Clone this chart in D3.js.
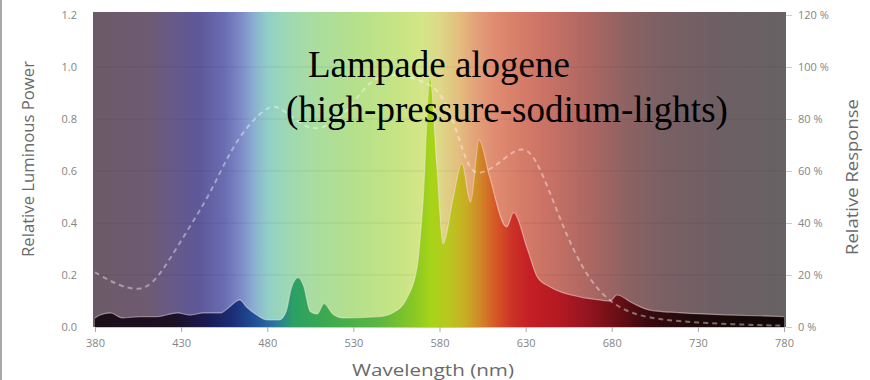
<!DOCTYPE html>
<html lang="en">
<head>
    <meta charset="UTF-8">
    <title>Lampade alogene spectrum</title>
    <script src="https://d3js.org/d3.v7.min.js"></script>
    <style>
        body { margin: 0; background: #fff; }
        .tick text { font-family: "Open Sans", sans-serif; fill: #858585; }
        .axis-title { font-family: "Open Sans", sans-serif; fill: #6a6a6a; }
        .caption { font-family: "Liberation Serif", "Times New Roman", serif; fill: #000; }
    </style>
</head>
<body>
    <svg width="870" height="380"></svg>

    <script>
        // Data
        const xTicks = [380, 430, 480, 530, 580, 630, 680, 730, 780];
        const leftTicks = [0, 0.2, 0.4, 0.6, 0.8, 1.0, 1.2];
        const rightTicks = [0, 20, 40, 60, 80, 100, 120];

        // relative luminous power of the lamp
        const powerWl = [380, 383, 389, 396, 406, 416, 428, 435, 443, 453, 458, 464, 468, 474, 480, 487,
            491, 494, 498, 501, 505, 509, 513, 518, 524, 545, 553, 561, 567, 570.5, 574.5, 578.5, 582,
            588, 593, 598, 603, 609, 619, 623, 631, 637, 644, 662, 673, 679, 683, 692, 702, 721, 750, 780];
        const powerVal = [0.035, 0.046, 0.054, 0.035, 0.040, 0.040, 0.054, 0.046, 0.054, 0.054, 0.077, 0.104, 0.077, 0.046, 0.027, 0.027,
            0.06, 0.15, 0.19, 0.16, 0.06, 0.05, 0.09, 0.05, 0.035, 0.04, 0.055, 0.11, 0.23, 0.49, 0.96, 0.62, 0.32,
            0.50, 0.63, 0.48, 0.72, 0.58, 0.385, 0.44, 0.30, 0.19, 0.155, 0.115, 0.104, 0.10, 0.123, 0.092, 0.065, 0.054, 0.046, 0.04];

        // relative response (dashed)
        const responseWl = [380, 388, 396, 406, 414, 422, 435, 447, 458, 468, 480, 487, 499, 510, 526, 538, 548, 560,
            572, 580, 588, 596, 602, 613, 623, 631, 638, 648, 656, 666, 679, 695, 720, 750, 780];
        const responseVal = [0.21, 0.18, 0.155, 0.14, 0.17, 0.245, 0.385, 0.515, 0.67, 0.77, 0.85, 0.85, 0.78, 0.75, 0.82, 0.94, 0.97, 0.97,
            0.94, 0.91, 0.80, 0.62, 0.58, 0.62, 0.68, 0.69, 0.62, 0.45, 0.32, 0.19, 0.092, 0.04, 0.02, 0.01, 0.005];

        const power = powerWl.map((w, i) => ({ wl: w, v: powerVal[i] }));
        const response = responseWl.map((w, i) => ({ wl: w, v: responseVal[i] }));

        // SVG setup
        const svg = d3.select("svg");
        const x = d3.scaleLinear().domain([380, 780]).range([95, 784]);
        const y = d3.scaleLinear().domain([0, 1.2]).range([327, 15]);
        const yR = d3.scaleLinear().domain([0, 120]).range([327, 15]);

        const defs = svg.append("defs");

        // muted spectrum behind everything
        const bgStops = [
            [380, "#6c5a68"], [410, "#6f5a72"], [425, "#675a88"], [440, "#5e5899"], [455, "#6a6cb2"],
            [465, "#7e8cc8"], [472, "#8aaed2"], [480, "#92cec6"], [490, "#9cd8b6"], [505, "#a8dca2"],
            [530, "#b4e08c"], [555, "#c6e484"], [570, "#d4e688"], [580, "#ddd888"], [590, "#e3c17f"],
            [600, "#e3a47a"], [612, "#e08c70"], [630, "#d47a68"], [650, "#c26e64"], [670, "#a86662"],
            [690, "#8c6262"], [710, "#7a6064"], [740, "#6e5f64"], [780, "#676264"]
        ];
        // vivid spectrum under the curve
        const fgStops = [
            [380, "#1a0f18"], [425, "#1c1024"], [445, "#1a1a52"], [460, "#1c2e78"], [472, "#1f4e96"],
            [485, "#2a78a0"], [495, "#2aa064"], [515, "#3eaa4e"], [545, "#5cb640"], [565, "#88c824"],
            [575, "#a6d418"], [585, "#b8c820"], [595, "#c8ae24"], [603, "#d08a28"], [612, "#d65a26"],
            [622, "#cc3226"], [632, "#c41f25"], [648, "#b61a22"], [665, "#961520"], [685, "#660e14"],
            [700, "#3a0a0e"], [730, "#1e0a0a"], [780, "#120808"]
        ];

        function addGradient(id, stops) {
            const grad = defs.append("linearGradient")
                .attr("id", id)
                .attr("gradientUnits", "userSpaceOnUse")
                .attr("x1", x(380)).attr("x2", x(780))
                .attr("y1", 0).attr("y2", 0);
            grad.selectAll("stop")
                .data(stops)
                .enter().append("stop")
                .attr("offset", d => (d[0] - 380) / 400)
                .attr("stop-color", d => d[1]);
        }
        addGradient("bgGrad", bgStops);
        addGradient("fgGrad", fgStops);

        // left border of the picture
        svg.append("rect")
            .attr("x", 0).attr("y", 0)
            .attr("width", 2).attr("height", 380)
            .style("fill", "#a8a8a8");

        // plot background
        svg.append("rect")
            .attr("x", x(380) - 2)
            .attr("y", 12)
            .attr("width", x(780) - x(380) + 4)
            .attr("height", y(0) - 12)
            .style("fill", "url(#bgGrad)");

        // faint grid
        svg.selectAll(".grid")
            .data(leftTicks.slice(1, -1))
            .enter().append("line")
            .attr("class", "grid")
            .attr("x1", x(380)).attr("x2", x(780))
            .attr("y1", d => y(d)).attr("y2", d => y(d))
            .style("stroke", "rgba(0,0,0,0.07)")
            .style("stroke-width", 1);

        // spectrum area
        const area = d3.area()
            .x(d => x(d.wl))
            .y0(y(0))
            .y1(d => y(d.v))
            .curve(d3.curveMonotoneX);

        svg.append("path")
            .datum(power)
            .attr("d", area)
            .style("fill", "url(#fgGrad)");

        svg.append("path")
            .datum(power)
            .attr("d", d3.line().x(d => x(d.wl)).y(d => y(d.v)).curve(d3.curveMonotoneX))
            .style("fill", "none")
            .style("stroke", "rgba(255,235,235,0.45)")
            .style("stroke-width", 1.2);

        // dashed response curve
        svg.append("path")
            .datum(response)
            .attr("d", d3.line().x(d => x(d.wl)).y(d => y(d.v)).curve(d3.curveBasis))
            .style("fill", "none")
            .style("stroke", "rgba(255,255,255,0.4)")
            .style("stroke-width", 2)
            .style("stroke-dasharray", "5,4");

        // X axis
        const xAxis = svg.append("g")
            .attr("transform", "translate(0," + y(0) + ")")
            .call(d3.axisBottom(x).tickValues(xTicks).tickSize(5).tickPadding(7));
        xAxis.select(".domain").style("stroke", "#c8c8c8");
        xAxis.selectAll(".tick line").style("stroke", "#aaa");
        xAxis.selectAll("text").style("font-size", "11px");

        // left Y axis
        const yAxis = svg.append("g")
            .attr("transform", "translate(" + (x(380) - 2) + ",0)")
            .call(d3.axisLeft(y).tickValues(leftTicks).tickSize(0).tickPadding(16).tickFormat(d3.format(".1f")));
        yAxis.select(".domain").remove();
        yAxis.selectAll("text").style("font-size", "11px");

        // right Y axis
        const yAxisR = svg.append("g")
            .attr("transform", "translate(" + (x(780) + 2) + ",0)")
            .call(d3.axisRight(yR).tickValues(rightTicks).tickSize(6).tickPadding(6).tickFormat(d => d + " %"));
        yAxisR.select(".domain").remove();
        yAxisR.selectAll(".tick line").style("stroke", "#ccc");
        yAxisR.selectAll("text").style("font-size", "11px");

        // axis titles
        svg.append("text")
            .attr("class", "axis-title")
            .attr("x", 433).attr("y", 376)
            .attr("text-anchor", "middle")
            .attr("textLength", 162)
            .attr("lengthAdjust", "spacingAndGlyphs")
            .style("font-size", "16px")
            .text("Wavelength (nm)");

        svg.append("text")
            .attr("class", "axis-title")
            .attr("transform", "translate(34,159) rotate(-90)")
            .attr("text-anchor", "middle")
            .attr("textLength", 196)
            .attr("lengthAdjust", "spacingAndGlyphs")
            .style("font-size", "16px")
            .text("Relative Luminous Power");

        svg.append("text")
            .attr("class", "axis-title")
            .attr("transform", "translate(858,177) rotate(-90)")
            .attr("text-anchor", "middle")
            .attr("textLength", 156)
            .attr("lengthAdjust", "spacingAndGlyphs")
            .style("font-size", "16px")
            .text("Relative Response");

        // caption over the plot
        svg.append("text")
            .attr("class", "caption")
            .attr("x", 308).attr("y", 77)
            .style("font-size", "37px")
            .text("Lampade alogene");

        svg.append("text")
            .attr("class", "caption")
            .attr("x", 286).attr("y", 122)
            .style("font-size", "37px")
            .text("(high-pressure-sodium-lights)");
    </script>
</body>
</html>
